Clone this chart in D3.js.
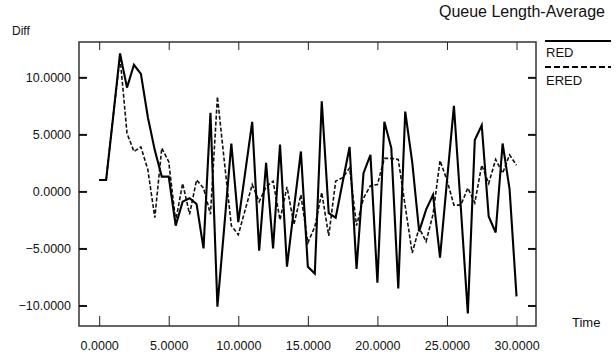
<!DOCTYPE html>
<html>
<head>
<meta charset="utf-8">
<script src="https://cdn.jsdelivr.net/npm/d3@7"></script>
<style>
  body { margin: 0; background: #fff; }
  text { font-family: "Liberation Sans", Arial, sans-serif; fill: #111; }
</style>
</head>
<body>
<div id="chart"></div>
<script>
// time axis, one sample every half unit
const times = d3.range(0, 30.5, 0.5);

// RED, solid line
const redValues = [
  1.0, 1.0, 6.5, 12.1, 9.1, 11.1, 10.3, 6.5, 3.6, 1.3,
  1.3, -3.0, -0.9, -0.6, -1.1, -5.0, 6.9, -10.1, -3.0, 4.2,
  -2.7, 1.7, 6.1, -5.2, 2.5, -5.0, 4.1, -6.6, -1.5, 3.5,
  -6.6, -7.2, 7.9, -1.9, -2.3, 0.8, 3.9, -6.8, 1.6, 3.2,
  -8.0, 6.1, 3.8, -8.5, 7.0, 2.6, -3.5, -1.6, -0.3, -5.8,
  0.9, 7.5, -1.5, -10.7, 4.5, 5.8, -2.2, -3.6, 4.2, 0.2,
  -9.2
];

// ERED, dashed line
const eredValues = [
  1.0, 1.0, 6.5, 11.8, 5.1, 3.5, 3.9, 1.9, -2.3, 3.8,
  2.6, -2.6, 0.7, -2.0, 1.0, 0.3, -2.0, 8.3, 2.6, -3.0,
  -3.8, -1.6, 0.6, -0.9, 0.4, 0.9, -2.5, 0.4, -2.9, -0.3,
  -4.5, -3.1, -0.1, -3.9, 0.9, 1.2, 2.05, -3.0, -0.6, 0.5,
  0.6, 2.9, 2.9, 2.8, -1.3, -5.4, -3.2, -4.4, -2.0, 2.7,
  1.0, -1.2, -1.2, 0.3, -1.0, 2.3, 0.7, 2.8, 1.6, 3.2,
  2.3
];

const xTicks = [0, 5, 10, 15, 20, 25, 30];
const yTicks = [-10, -5, 0, 5, 10];
const seriesNames = ["RED", "ERED"];

const width = 616, height = 360;
const plotLeft = 79, plotRight = 536, plotTop = 42, plotBottom = 326;

const svg = d3.select("#chart").append("svg")
  .attr("width", width)
  .attr("height", height);

const x = d3.scaleLinear().domain([-1.45, 31.4]).range([plotLeft, plotRight]);
const y = d3.scaleLinear().domain([-11.8, 13.1]).range([plotBottom, plotTop]);

const fmt = d3.format(".4f");

// frame
svg.append("rect")
  .attr("x", plotLeft).attr("y", plotTop)
  .attr("width", plotRight - plotLeft).attr("height", plotBottom - plotTop)
  .attr("fill", "none").attr("stroke", "#333").attr("stroke-width", 1.5);

// axes, ticks pointing inward
const gLeft = svg.append("g")
  .attr("transform", "translate(" + plotLeft + ",0)")
  .call(d3.axisLeft(y).tickValues(yTicks).tickFormat(fmt)
    .tickSizeInner(-8).tickSizeOuter(0).tickPadding(8));

const gRight = svg.append("g")
  .attr("transform", "translate(" + plotRight + ",0)")
  .call(d3.axisRight(y).tickValues(yTicks).tickFormat("")
    .tickSizeInner(-8).tickSizeOuter(0));

const gBottom = svg.append("g")
  .attr("transform", "translate(0," + plotBottom + ")")
  .call(d3.axisBottom(x).tickValues(xTicks).tickFormat(fmt)
    .tickSizeInner(-10).tickSizeOuter(0).tickPadding(15));

const gTop = svg.append("g")
  .attr("transform", "translate(0," + plotTop + ")")
  .call(d3.axisTop(x).tickValues(xTicks).tickFormat("")
    .tickSizeInner(-8).tickSizeOuter(0));

[gLeft, gRight, gBottom, gTop].forEach(g => {
  g.select(".domain").remove();
  g.selectAll("text").attr("font-size", 12.5).attr("fill", "#111")
    .attr("font-family", "Liberation Sans, Arial, sans-serif");
});
gLeft.selectAll(".tick line").attr("stroke", "#111").attr("stroke-width", 2);
gRight.selectAll(".tick line").attr("stroke", "#111").attr("stroke-width", 2);
gBottom.selectAll(".tick line").attr("stroke", "#222").attr("stroke-width", 1);
gTop.selectAll(".tick line").attr("stroke", "#222").attr("stroke-width", 1);

// lines
const line = d3.line()
  .x((d, i) => x(times[i]))
  .y(d => y(d));

svg.append("path")
  .datum(eredValues)
  .attr("d", line)
  .attr("fill", "none")
  .attr("stroke", "#111")
  .attr("stroke-width", 1.6)
  .attr("stroke-dasharray", "4,2");

svg.append("path")
  .datum(redValues)
  .attr("d", line)
  .attr("fill", "none")
  .attr("stroke", "#000")
  .attr("stroke-width", 2.1)
  .attr("stroke-linejoin", "miter");

// titles
svg.append("text")
  .attr("x", 605).attr("y", 17)
  .attr("text-anchor", "end")
  .attr("font-size", 16)
  .text("Queue Length-Average");

svg.append("text")
  .attr("x", 12).attr("y", 35)
  .attr("font-size", 12)
  .text("Diff");

svg.append("text")
  .attr("x", 572).attr("y", 327)
  .attr("font-size", 13)
  .text("Time");

// legend
const legend = svg.append("g");
seriesNames.forEach((name, i) => {
  const ly = 41 + i * 26;
  legend.append("line")
    .attr("x1", 545).attr("x2", 611)
    .attr("y1", ly).attr("y2", ly)
    .attr("stroke", "#000")
    .attr("stroke-width", i === 0 ? 2.2 : 1.8)
    .attr("stroke-dasharray", i === 0 ? null : "6,3");
  legend.append("text")
    .attr("x", 546).attr("y", ly + 16 + i * 2)
    .attr("font-size", 13)
    .text(name);
});
</script>
</body>
</html>
